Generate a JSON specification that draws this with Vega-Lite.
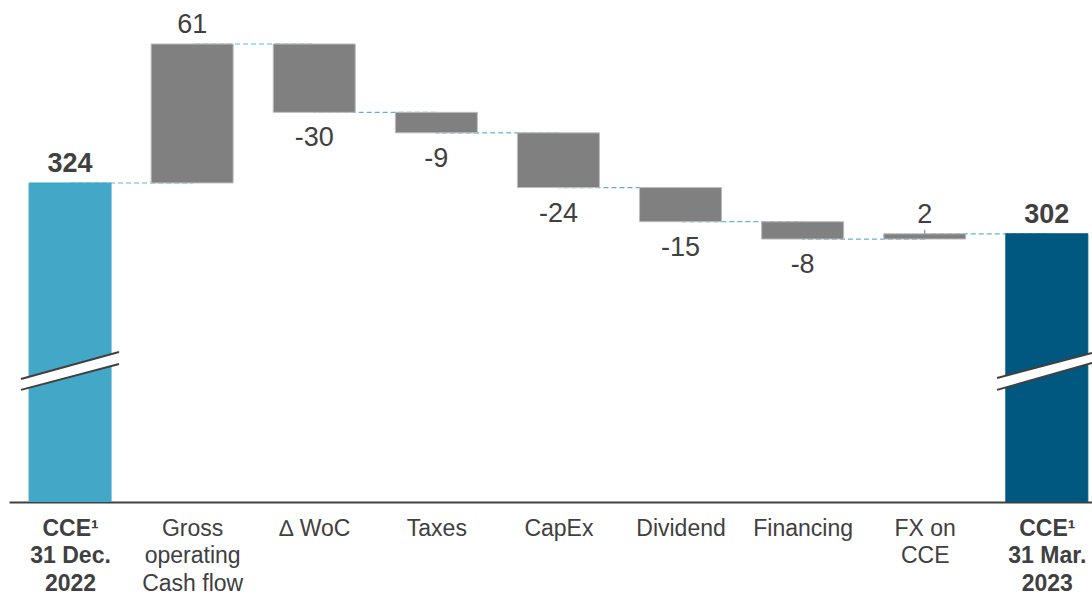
{
  "$schema": "https://vega.github.io/schema/vega-lite/v6.json",
  "width": 1083,
  "height": 502,
  "autosize": {"type": "none"},
  "padding": {"left": 9, "top": 0, "right": 0, "bottom": 93},
  "config": {
    "view": {"stroke": null},
    "font": "Liberation Sans",
    "text": {"font": "Liberation Sans"}
  },
  "datasets": {
    "steps": [
      {"i": 0, "name": "CCE 31 Dec. 2022", "start": 0, "end": 324, "label": "324", "kind": "start"},
      {"i": 1, "name": "Gross operating Cash flow", "start": 324, "end": 385, "label": "61", "kind": "delta"},
      {"i": 2, "name": "Δ WoC", "start": 385, "end": 355, "label": "-30", "kind": "delta"},
      {"i": 3, "name": "Taxes", "start": 355, "end": 346, "label": "-9", "kind": "delta"},
      {"i": 4, "name": "CapEx", "start": 346, "end": 322, "label": "-24", "kind": "delta"},
      {"i": 5, "name": "Dividend", "start": 322, "end": 307, "label": "-15", "kind": "delta"},
      {"i": 6, "name": "Financing", "start": 307, "end": 299.4, "label": "-8", "kind": "delta"},
      {"i": 7, "name": "FX on CCE", "start": 299.4, "end": 301.7, "label": "2", "kind": "delta"},
      {"i": 8, "name": "CCE 31 Mar. 2023", "start": 0, "end": 301.7, "label": "302", "kind": "end"}
    ],
    "brk": [
      {"bar": "start", "x": -0.402, "yu": 238.0, "yl": 233.2},
      {"bar": "start", "x": 0.401, "yu": 249.8, "yl": 244.6},
      {"bar": "end", "x": 7.592, "yu": 238.4, "yl": 233.2},
      {"bar": "end", "x": 8.37, "yu": 249.4, "yl": 245.0}
    ]
  },
  "layer": [
    {
      "data": {"name": "steps"},
      "mark": {"type": "line", "interpolate": "step-after", "stroke": "#5BB7D5", "strokeWidth": 1.2, "strokeDash": [5, 3]},
      "encoding": {
        "x": {
          "field": "i", "type": "quantitative",
          "scale": {"domain": [-0.5, 8.37], "nice": false, "zero": false, "padding": 0},
          "axis": {
            "title": null,
            "grid": false,
            "ticks": false,
            "values": [0, 1, 2, 3, 4, 5, 6, 7, 8],
            "domainColor": "#404040",
            "domainWidth": 2,
            "labelFont": "Liberation Sans",
            "labelFontSize": 23,
            "labelColor": "#404040",
            "labelPadding": 15,
            "labelLineHeight": 27.5,
            "labelBaseline": "top",
            "labelAlign": "center",
            "labelOverlap": false,
            "labelFlush": false,
            "labelBound": false,
            "labelFontWeight": {"condition": {"test": "datum.value == 0 || datum.value == 8", "value": "bold"}, "value": "normal"},
            "labelExpr": "[['CCE¹','31 Dec.','2022'],['Gross','operating','Cash flow'],['∆ WoC'],['Taxes'],['CapEx'],['Dividend'],['Financing'],['FX on','CCE'],['CCE¹','31 Mar.','2023']][datum.value]"
          }
        },
        "y": {
          "field": "end", "type": "quantitative",
          "scale": {"domain": [184, 404.3], "nice": false, "zero": false},
          "axis": null
        }
      }
    },
    {
      "data": {"name": "steps"},
      "transform": [{"filter": "abs(datum.end - datum.start) < 3"}],
      "mark": {"type": "tick", "orient": "vertical", "size": 8, "thickness": 1, "color": "#404040"},
      "encoding": {
        "x": {"field": "i", "type": "quantitative"},
        "y": {"field": "end", "type": "quantitative"}
      }
    },
    {
      "data": {"name": "steps"},
      "mark": {"type": "bar", "width": 82, "clip": true, "strokeWidth": 1},
      "encoding": {
        "x": {"field": "i", "type": "quantitative"},
        "y": {"field": "start", "type": "quantitative"},
        "y2": {"field": "end"},
        "color": {
          "field": "kind", "type": "nominal",
          "scale": {"domain": ["start", "delta", "end"], "range": ["#43A7C8", "#808080", "#005880"]},
          "legend": null
        },
        "stroke": {
          "field": "kind", "type": "nominal",
          "scale": {"domain": ["start", "delta", "end"], "range": ["#43A7C8", "#BDBDBD", "#005880"]},
          "legend": null
        }
      }
    },
    {
      "data": {"name": "brk"},
      "mark": {"type": "area", "color": "white", "opacity": 1, "clip": true},
      "encoding": {
        "x": {"field": "x", "type": "quantitative"},
        "y": {"field": "yu", "type": "quantitative"},
        "y2": {"field": "yl"},
        "detail": {"field": "bar"}
      }
    },
    {
      "data": {"name": "brk"},
      "mark": {"type": "line", "color": "#404040", "strokeWidth": 2, "clip": true},
      "encoding": {
        "x": {"field": "x", "type": "quantitative"},
        "y": {"field": "yu", "type": "quantitative"},
        "detail": {"field": "bar"}
      }
    },
    {
      "data": {"name": "brk"},
      "mark": {"type": "line", "color": "#404040", "strokeWidth": 2, "clip": true},
      "encoding": {
        "x": {"field": "x", "type": "quantitative"},
        "y": {"field": "yl", "type": "quantitative"},
        "detail": {"field": "bar"}
      }
    },
    {
      "data": {"name": "steps"},
      "transform": [{"filter": "datum.kind != 'delta'"}],
      "mark": {"type": "text", "font": "Liberation Sans", "fontSize": 27, "fontWeight": "bold", "color": "#404040", "baseline": "alphabetic", "align": "center", "dy": -11},
      "encoding": {
        "x": {"field": "i", "type": "quantitative"},
        "y": {"field": "end", "type": "quantitative"},
        "text": {"field": "label"}
      }
    },
    {
      "data": {"name": "steps"},
      "transform": [{"filter": "datum.kind == 'delta' && datum.end > datum.start"}],
      "mark": {"type": "text", "font": "Liberation Sans", "fontSize": 27, "color": "#404040", "baseline": "alphabetic", "align": "center", "dy": -11},
      "encoding": {
        "x": {"field": "i", "type": "quantitative"},
        "y": {"field": "end", "type": "quantitative"},
        "text": {"field": "label"}
      }
    },
    {
      "data": {"name": "steps"},
      "transform": [{"filter": "datum.kind == 'delta' && datum.end < datum.start"}],
      "mark": {"type": "text", "font": "Liberation Sans", "fontSize": 27, "color": "#404040", "baseline": "alphabetic", "align": "center", "dy": 34},
      "encoding": {
        "x": {"field": "i", "type": "quantitative"},
        "y": {"field": "end", "type": "quantitative"},
        "text": {"field": "label"}
      }
    }
  ]
}
